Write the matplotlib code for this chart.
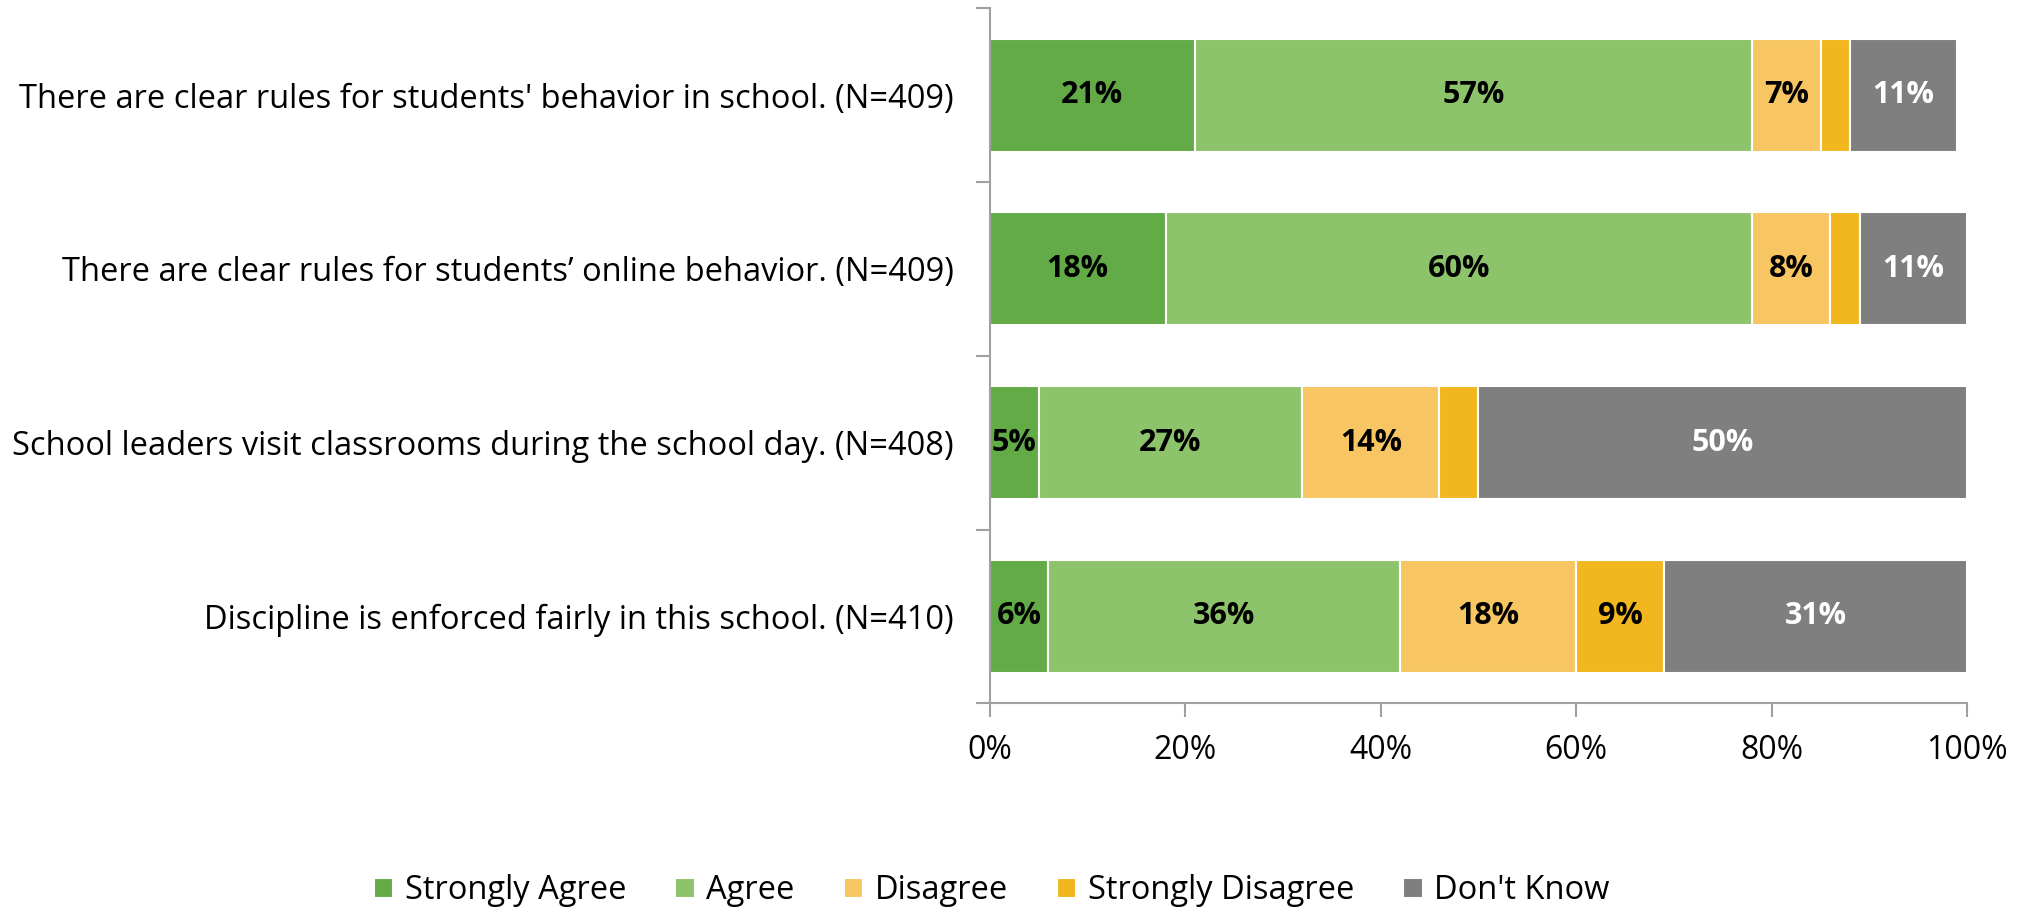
import matplotlib
matplotlib.use("Agg")
import matplotlib.pyplot as plt
from matplotlib import font_manager
import numpy as np

categories = [
    "There are clear rules for students' behavior in school. (N=409)",
    "There are clear rules for students\u2019 online behavior. (N=409)",
    "School leaders visit classrooms during the school day. (N=408)",
    "Discipline is enforced fairly in this school. (N=410)",
]
series_names = ["Strongly Agree", "Agree", "Disagree", "Strongly Disagree", "Don't Know"]
strongly_agree = [21, 18, 5, 6]
agree = [57, 60, 27, 36]
disagree = [7, 8, 14, 18]
strongly_disagree = [3, 3, 4, 9]
dont_know = [11, 11, 50, 31]
colors = ["#62AB47", "#8DC36A", "#F7C662", "#F2B61F", "#7F7F7F"]
label_colors = ["black", "black", "black", "black", "white"]
xticks = [0, 20, 40, 60, 80, 100]
xticklabels = ["0%", "20%", "40%", "60%", "80%", "100%"]

avail = {f.name for f in font_manager.fontManager.ttflist}
fam = "Liberation Sans Narrow" if "Liberation Sans Narrow" in avail else "Open Sans"
plt.rcParams["font.family"] = [fam, "DejaVu Sans"]

fig = plt.figure(figsize=(20.28, 9.11), dpi=100)
ax = fig.add_axes([0.488, 0.228, 0.482, 0.763])

data = [strongly_agree, agree, disagree, strongly_disagree, dont_know]
y = np.arange(len(categories))
left = np.zeros(len(categories))
for name, vals, col, lc in zip(series_names, data, colors, label_colors):
    vals = np.array(vals, dtype=float)
    bars = ax.barh(y, vals, left=left, height=0.65, color=col, edgecolor="white",
                   linewidth=1.5, label=name)
    for b, v in zip(bars, vals):
        if v >= 5:
            ax.text(b.get_x() + b.get_width() / 2, b.get_y() + b.get_height() / 2,
                    f"{int(v)}%", ha="center", va="center", fontsize=22,
                    fontweight="bold", color=lc)
    left += vals

ax.set_ylim(len(categories) - 0.5, -0.5)
ax.set_xlim(0, 100)
ax.set_yticks(y)
ax.set_yticklabels(categories, fontsize=23.5)
ax.set_yticks(np.arange(-0.5, len(categories), 1), minor=True)
ax.tick_params(axis="y", which="major", length=0, pad=26)
ax.tick_params(axis="y", which="minor", length=10, color="#A0A0A0", width=1.5)
ax.set_xticks(xticks)
ax.set_xticklabels(xticklabels, fontsize=23)
ax.tick_params(axis="x", length=10, color="#A0A0A0", width=1.5, pad=12)
for s in ["top", "right"]:
    ax.spines[s].set_visible(False)
for s in ["left", "bottom"]:
    ax.spines[s].set_color("#A0A0A0")
    ax.spines[s].set_linewidth(1.5)

handles, labels = ax.get_legend_handles_labels()
fig.legend(handles, labels, loc="center", bbox_to_anchor=(0.489, 0.022), ncol=5,
           frameon=False, fontsize=23.5, handlelength=0.6, handleheight=0.6,
           handletextpad=0.35, columnspacing=1.5)

fig.savefig("out.png", dpi=100)
